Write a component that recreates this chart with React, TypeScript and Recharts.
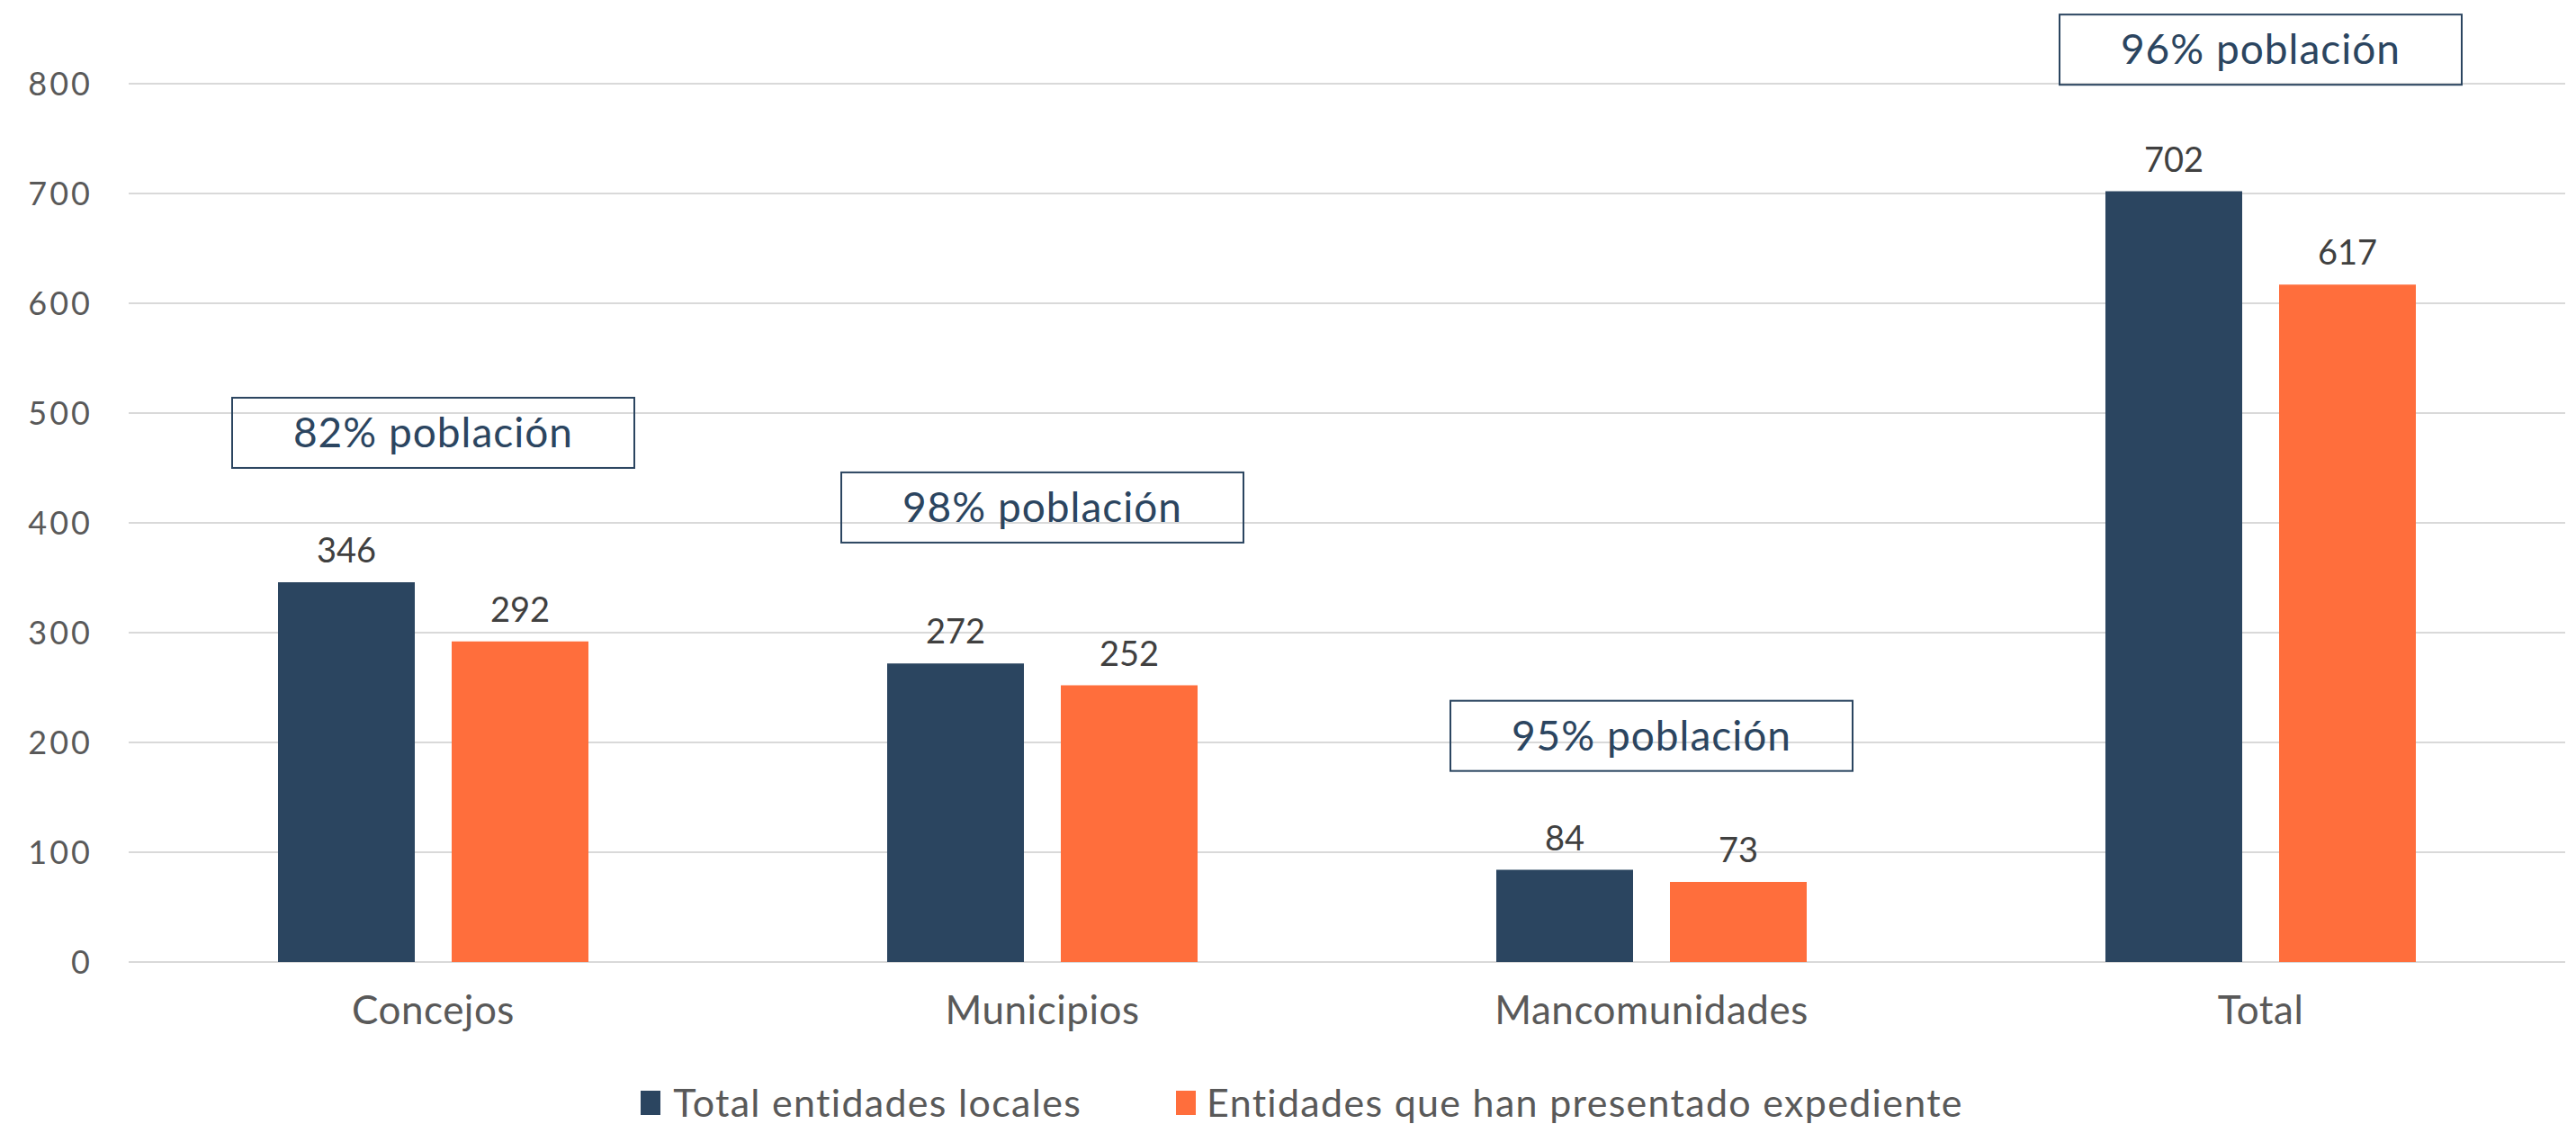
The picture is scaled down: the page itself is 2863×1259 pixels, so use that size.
import React from 'react';
import { BarChart, Bar, XAxis, YAxis, CartesianGrid, Legend, LabelList, ReferenceDot } from 'recharts';

const categories = ['Concejos', 'Municipios', 'Mancomunidades', 'Total'];
const totalEntidades = [346, 272, 84, 702];
const entidadesExpediente = [292, 252, 73, 617];
const poblacionLabels = ['82% población', '98% población', '95% población', '96% población'];
const poblacionBoxCenter = [482, 414, 206, 831];
const yTicks = [0, 100, 200, 300, 400, 500, 600, 700, 800];
const seriesNames = ['Total entidades locales', 'Entidades que han presentado expediente'];

const NAVY = '#2B4560';
const ORANGE = '#FF6E3C';
const FONT = 'Lato, "Open Sans", sans-serif';

const data = categories.map((c, i) => ({
  category: c,
  total: totalEntidades[i],
  expediente: entidadesExpediente[i],
}));

const makeBox = (label: string) => (props: any) => {
  const { cx, cy } = props;
  return (
    <g>
      <rect x={cx - 223.5} y={cy - 39} width={447} height={78} fill="none" stroke={NAVY} strokeWidth={2} />
      <text x={cx} y={cy + 16} textAnchor="middle" fontSize={46} fill={NAVY} fontFamily={FONT} letterSpacing={1}>
        {label}
      </text>
    </g>
  );
};

const LegendContent = () => (
  <div
    style={{
      height: 40,
      display: 'flex',
      justifyContent: 'center',
      alignItems: 'center',
      fontFamily: FONT,
      fontSize: 43,
      color: '#595959',
      letterSpacing: 1.3,
      transform: 'translateY(-6px)',
    }}
  >
    <div style={{ display: 'flex', alignItems: 'center', marginRight: 105 }}>
      <span style={{ display: 'inline-block', width: 22, height: 27, background: NAVY, marginRight: 14 }} />
      <span style={{ lineHeight: '40px' }}>{seriesNames[0]}</span>
    </div>
    <div style={{ display: 'flex', alignItems: 'center' }}>
      <span style={{ display: 'inline-block', width: 22, height: 27, background: ORANGE, marginRight: 12 }} />
      <span style={{ lineHeight: '40px' }}>{seriesNames[1]}</span>
    </div>
  </div>
);

export default function App() {
  return (
    <div style={{ fontFamily: FONT }}>
      <BarChart
        width={2847}
        height={1243}
        data={data}
        margin={{ top: 85, right: 4, left: 35, bottom: 0 }}
        barSize={152}
        barGap={41}
      >
        <CartesianGrid vertical={false} stroke="#D9D9D9" strokeWidth={2} />
        <XAxis
          dataKey="category"
          axisLine={false}
          tickLine={false}
          tickSize={0}
          tickMargin={38}
          height={142}
          tick={{ fontSize: 44, fill: '#595959', fontFamily: FONT, letterSpacing: 0.5 }}
          interval={0}
        />
        <YAxis
          domain={[0, 800]}
          ticks={yTicks}
          allowDataOverflow={true}
          axisLine={false}
          tickLine={false}
          tickSize={0}
          tickMargin={40}
          width={100}
          tick={{ fontSize: 36, fill: '#595959', fontFamily: FONT, letterSpacing: 3 }}
        />
        <Legend verticalAlign="bottom" content={<LegendContent />} />
        <Bar dataKey="total" name={seriesNames[0]} fill={NAVY} isAnimationActive={false}>
          <LabelList dataKey="total" position="top" offset={22} fontSize={38} fill="#404040" fontFamily={FONT} />
        </Bar>
        <Bar dataKey="expediente" name={seriesNames[1]} fill={ORANGE} isAnimationActive={false}>
          <LabelList dataKey="expediente" position="top" offset={22} fontSize={38} fill="#404040" fontFamily={FONT} />
        </Bar>
        {categories.map((c, i) => (
          <ReferenceDot
            key={c}
            x={c}
            y={poblacionBoxCenter[i]}
            ifOverflow="visible"
            shape={makeBox(poblacionLabels[i])}
          />
        ))}
      </BarChart>
    </div>
  );
}
